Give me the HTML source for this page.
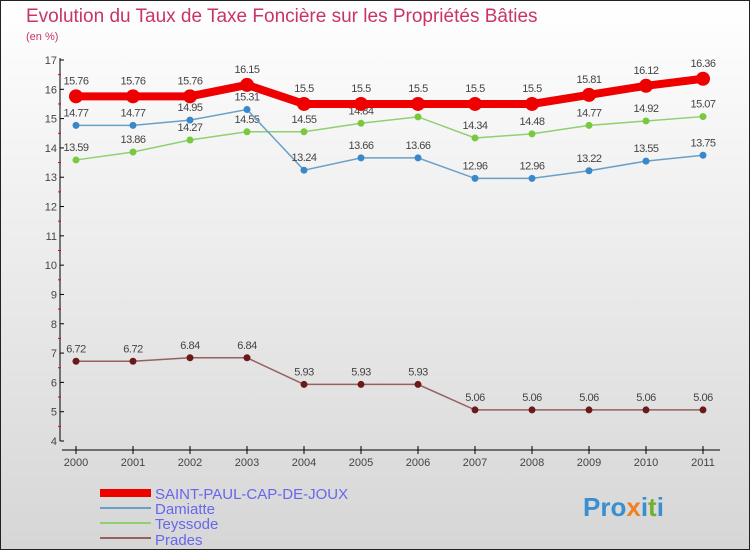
<!DOCTYPE html>
<html><head><meta charset="utf-8"><style>
body{margin:0;width:750px;height:550px;overflow:hidden;font-family:"Liberation Sans",sans-serif}
svg text{font-family:"Liberation Sans",sans-serif}
</style></head><body>
<svg id="c" width="750" height="550">
<defs><linearGradient id="bg" x1="0" y1="0" x2="0" y2="1"><stop offset="0" stop-color="#ffffff"/><stop offset="1" stop-color="#d6d6d6"/></linearGradient></defs>
<rect x="0.5" y="0.5" width="749" height="549" fill="url(#bg)" stroke="#222"/>
<text x="26" y="22" font-size="19" fill="#c8336a">Evolution du Taux de Taxe Foncière sur les Propriétés Bâties</text>
<text x="26" y="40" font-size="11" fill="#c8336a">(en %)</text>
<g id="axes"></g><g id="series"></g>
<g>
<rect x="100" y="489" width="51" height="8" fill="#e00"/>
<text x="155" y="499" font-size="15" fill="#6666ee">SAINT-PAUL-CAP-DE-JOUX</text>
<rect x="100" y="507" width="51" height="2" fill="#6aa0c8"/>
<text x="155" y="514" font-size="15" fill="#6666ee">Damiatte</text>
<rect x="100" y="522" width="51" height="2" fill="#90d070"/>
<text x="155" y="529" font-size="15" fill="#6666ee">Teyssode</text>
<rect x="100" y="537" width="51" height="2" fill="#956060"/>
<text x="155" y="545" font-size="15" fill="#6666ee">Prades</text>
</g>
<text x="583" y="516" font-size="26" font-weight="bold" fill="#3a8fd0">Pro<tspan fill="#f08020">x</tspan>i<tspan fill="#70b030">t</tspan>i</text>
</svg>
<script>
const years=[2000,2001,2002,2003,2004,2005,2006,2007,2008,2009,2010,2011];
const yTicks=[4,5,6,7,8,9,10,11,12,13,14,15,16,17];
const saintPaul=[15.76,15.76,15.76,16.15,15.5,15.5,15.5,15.5,15.5,15.81,16.12,16.36];
const damiatte=[14.77,14.77,14.95,15.31,13.24,13.66,13.66,12.96,12.96,13.22,13.55,13.75];
const teyssode=[13.59,13.86,14.27,14.55,14.55,14.84,15.06,14.34,14.48,14.77,14.92,15.07];
const prades=[6.72,6.72,6.84,6.84,5.93,5.93,5.93,5.06,5.06,5.06,5.06,5.06];
const NS="http://www.w3.org/2000/svg";
const X=i=>76+i*57.0;
const Y=v=>441-(v-4)*(381/13);
function mk(t,a,p){const e=document.createElementNS(NS,t);for(const k in a)e.setAttribute(k,a[k]);p.appendChild(e);return e;}
const ax=document.getElementById('axes');
let l=mk('line',{x1:60,y1:58,x2:60,y2:441,stroke:'#000'},ax);


l=mk('line',{x1:62,y1:450,x2:720,y2:450,stroke:'#000'},ax);


yTicks.forEach((v,i)=>{
 mk('line',{x1:60,y1:Y(v),x2:64,y2:Y(v),stroke:'#000'},ax);
 if(i<yTicks.length-1)mk('line',{x1:58,y1:Y(v+0.5),x2:61,y2:Y(v+0.5),stroke:'#e00'},ax);
 const t=mk('text',{x:57,y:Y(v)+4,'font-size':11,'text-anchor':'end',fill:'#444'},ax);t.textContent=v;
 
 
});
years.forEach((y,i)=>{
 mk('line',{x1:X(i),y1:446,x2:X(i),y2:454,stroke:'#000'},ax);
 const t=mk('text',{x:X(i),y:466,'font-size':11,'text-anchor':'middle',fill:'#444'},ax);t.textContent=y;
 
 
});
const sg=document.getElementById('series');
function draw(vals,color,w,r,dot,name,dy){
 const g=mk('g',{},sg);
 
 
 mk('polyline',{points:vals.map((v,i)=>X(i)+','+Y(v)).join(' '),fill:'none',stroke:color,'stroke-width':w},g);
 vals.forEach((v,i)=>{
  const c=mk('circle',{cx:X(i),cy:Y(v),r:r,fill:dot},g);
  
  
  const t=mk('text',{x:X(i),y:Y(v)-dy,'font-size':11,'text-anchor':'middle',fill:'#444','letter-spacing':'-0.5'},g);t.textContent=v;
  
  
 });
}
draw(prades,'#956060',1.5,3.5,'#6b1a1a','prades-series',9);
draw(teyssode,'#90d070',1.5,3.5,'#78c840','teyssode-series',9);
draw(damiatte,'#6aa0c8',1.5,3.5,'#3a88c8','damiatte-series',9);
draw(saintPaul,'#e00',8,7,'#e00','saint-paul-series',12);
</script>
</body></html>
